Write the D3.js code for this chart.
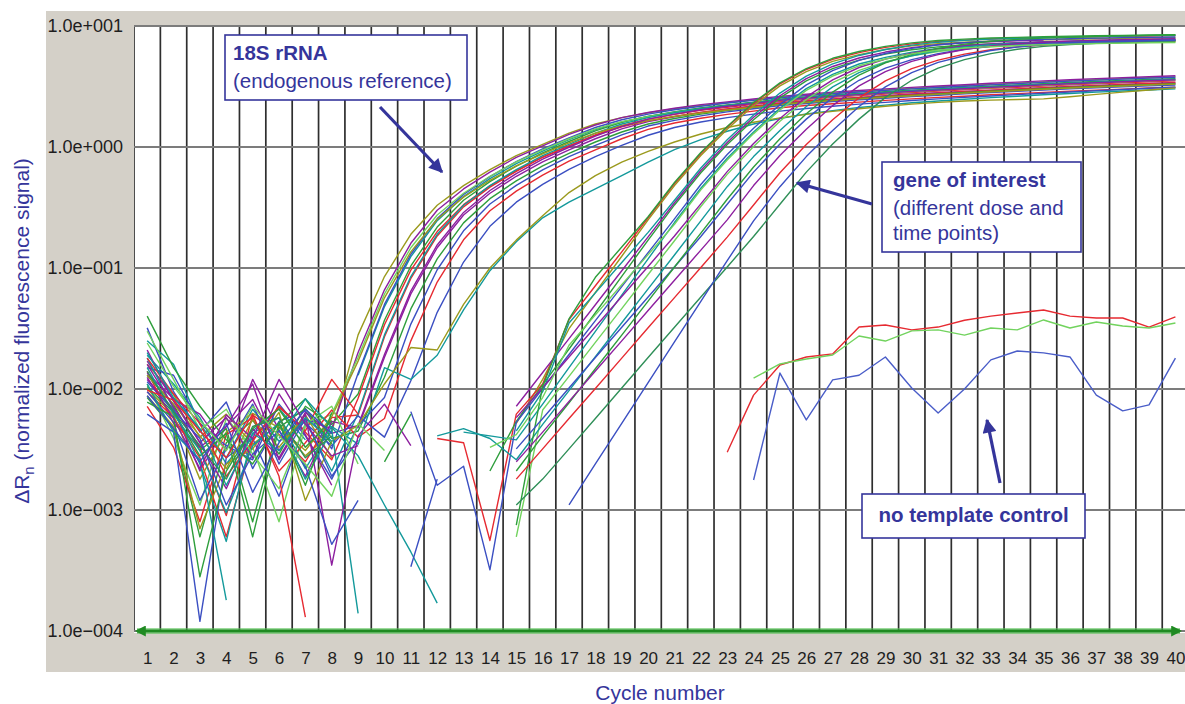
<!DOCTYPE html>
<html>
<head>
<meta charset="utf-8">
<title>Amplification plot</title>
<script src="https://cdn.jsdelivr.net/npm/d3@7"></script>
<style>
  body { margin: 0; background: #fff; }
  svg text { font-family: Arial, "Liberation Sans", Helvetica, sans-serif; }
</style>
</head>
<body>
<svg id="mainsvg" width="1185" height="704"></svg>
<script>
const _ = null; // negative / no signal, not drawn on a log axis

const cycles = [1,2,3,4,5,6,7,8,9,10,11,12,13,14,15,16,17,18,19,20,21,22,23,24,25,26,27,28,29,30,31,32,33,34,35,36,37,38,39,40];
const yTicks = [10, 1, 0.1, 0.01, 0.001, 0.0001];
const yTickLabels = ['1.0e+001', '1.0e+000', '1.0e\u2212001', '1.0e\u2212002', '1.0e\u2212003', '1.0e\u2212004'];
const threshold = 0.0001;

// 18S rRNA (endogenous reference) runs, delta Rn per cycle 1..40
const rRNA18S = [
  [.016,.009,.004,.0062,.0035,.0051,.0028,.0044, .028,.085,.19,.33,.48,.65,.85,1.05,1.3,1.55,1.75,1.92,2.07,2.2,2.32,2.45, 2.57,2.68,2.78,2.87,2.96,3.05,3.13,3.21,3.29,3.37,3.45,3.53,3.6,3.67,3.74,3.8],
  [.012,.0068,.0021,.0049,.0082,.0031,.0056,.0047, .020,.066,.16,.30,.45,.62,.82,1.02,1.27,1.52,1.75,1.93,2.09,2.24,2.36,2.49, 2.62,2.73,2.84,2.93,3.02,3.11,3.19,3.27,3.36,3.44,3.52,3.6,3.67,3.74,3.81,3.88],
  [.019,.011,.0058,.0024,.0045,.0069,.0038,_, .013,.048,.124,.246,.39,.547,.728,.925,1.15,1.39,1.61,1.79,1.95,2.09,2.21,2.33, 2.46,2.57,2.66,2.75,2.84,2.92,3.0,3.08,3.15,3.23,3.31,_,_,_,_,_],
  [.0085,.0047,.0006,.0036,.0055,.0029,.0072,.0051, .0091,.037,.104,.218,.363,.518,.695,.895,1.11,1.36,1.6,1.79,1.95,2.1,2.23,2.35, 2.48,2.59,2.69,2.77,2.86,2.95,3.02,3.1,3.18,3.26,3.33,3.41,3.48,3.55,3.61,3.67],
  [.014,.0052,.0033,.0009,.0061,.0042,.0025,.0058, .0061,.027,.082,.184,.32,.466,.63,.825,1.02,1.26,1.5,1.7,1.86,2.01,2.13,2.25, 2.38,2.48,2.57,2.66,2.74,2.82,2.9,2.97,3.05,3.12,3.19,3.27,3.33,3.4,3.46,3.52],
  [.032,.0095,.0044,.0078,.0022,.0054,.0066,.0032, .0135,.05,.13,.256,.406,.569,.758,.963,1.19,1.45,1.68,1.87,2.03,2.17,2.31,2.43, 2.55,2.66,2.76,2.85,2.94,3.02,3.1,3.18,3.26,3.34,3.42,3.5,3.57,3.64,3.71,3.77],
  [.011,.0039,.0011,.0057,.0033,.0008,.0049,.0062, .0183,.061,.147,.274,.415,.573,.754,.945,1.17,1.41,1.62,1.78,1.93,2.06,2.18,2.3, 2.42,2.52,2.61,2.7,2.78,2.87,2.94,3.02,3.09,3.17,3.24,3.32,3.38,3.45,3.52,3.57],
  [.017,.0082,.0062,.0031,.012,.0046,.0019,.0054, .0048,.0183,.061,.147,.274,.415,.573,.754,.945,1.17,1.41,1.62,1.78,1.93,2.06,2.18, 2.31,2.4,2.49,2.57,2.66,2.74,2.81,2.88,2.95,3.02,3.09,3.17,3.23,3.29,3.35,3.41],
  [.0095,.0058,.0027,.0006,.0038,.0071,.0044,.0026, .0084,.034,.096,.2,.334,.477,.639,.823,1.02,1.25,1.47,1.65,1.79,1.93,2.05,2.16, 2.29,2.39,2.47,2.55,2.63,2.71,2.79,2.86,2.93,3.0,3.07,3.14,3.2,3.27,3.33,3.38],
  [.013,.0074,.0031,.0047,.0008,.0052,.0083,.0039, .0045,.0125,.0459,.119,.236,.374,.525,.698,.887,1.1,1.33,1.55,1.72,1.87,2.0,2.12, 2.25,2.35,2.44,2.52,2.6,2.67,2.75,2.82,2.89,2.96,3.03,3.1,3.16,3.22,3.28,3.33],
  [.025,.016,.0051,.0027,.0068,.0037,.0054,.0021, .0063,.028,.085,.19,.33,.48,.65,.85,1.05,1.3,1.55,1.75,1.92,2.07,2.2,2.32, 2.45,2.56,2.65,2.74,2.83,2.91,2.99,3.07,3.14,3.22,3.29,3.37,3.44,3.5,3.57,3.63],
  [.0072,.0033,.0008,.0042,.0058,.0021,.0036,.0067, .004,.0057,.025,.0765,.171,.297,.432,.585,.765,.945,1.17,1.4,1.58,1.73,1.86,1.98, 2.11,2.2,2.28,2.35,2.43,2.5,2.57,2.63,2.7,2.76,2.83,2.89,2.95,3.01,3.07,3.12],
  [.015,.013,.0052,.0034,.0026,.0075,.0041,.0018, .005,.0085,.0344,.0967,.203,.338,.482,.646,.832,1.03,1.26,1.49,1.66,1.81,1.95,2.07, 2.2,2.29,2.38,2.46,2.53,2.61,2.68,2.75,2.82,2.88,2.95,3.02,3.08,3.14,3.2,3.25],
  [.01,.0061,.0018,.0044,.0063,.0048,.0031,.0059, .017,.0567,.136,.253,.385,.531,.699,.876,1.08,1.3,1.5,1.65,1.79,1.91,2.02,2.13, 2.24,2.33,2.42,2.5,2.58,2.65,2.72,2.79,2.86,2.93,3.0,3.07,3.13,3.19,3.25,3.31],
  [.021,.0079,.0036,.0015,.0047,.0027,.0064,.0043, .005,.0193,.0644,.155,.288,.437,.603,.794,.995,1.23,1.48,1.7,1.87,2.03,2.17,2.29, 2.43,2.53,2.62,2.71,2.79,2.88,2.95,3.03,3.11,3.18,3.26,3.33,3.4,3.46,3.53,3.59],
  [.0062,.0044,.00012,.0027,.0039,.0013,.0052,.0034, .006,.004,.0117,.043,.112,.221,.35,.491,.654,.831,1.03,1.25,1.45,1.61,1.75,1.87, 1.98,2.08,2.17,2.26,2.34,2.42,2.5,2.57,2.64,2.71,2.78,2.85,2.92,2.99,3.06,3.12],
  [.018,.0069,.0024,.00055,.0043,.0058,.0022,.0049, .0035,.015,.012,.019,.045,.095,.165,.26,.35,.45,.58,.75,.95,1.15,1.35,1.55, 1.72,1.88,2.0,2.12,2.22,2.32,2.4,2.48,2.56,2.63,2.7,2.77,2.84,2.9,2.96,3.02],
  [.0088,.0049,.0007,.0024,.0032,.0064,.0012,.0037, .005,.011,.022,.021,.05,.1,.17,.27,.42,.58,.75,.92,1.1,1.28,1.45,1.6, 1.74,1.86,1.97,2.07,2.17,2.26,2.34,2.4,2.44,2.47,2.5,2.6,2.72,2.84,2.96,3.08]
];

// gene of interest runs (different dose and time points)
const geneOfInterest = [
  [.013,.0075,.0041,.0022,.0056,.0033,.0061,.0027, _,_,_,_,_,_, .0052,.012,.0315,.0628,.125,.25,.48,.85,1.4,2.2,3.2,4.2,5.1,5.8,6.4,6.85,7.15,7.35,7.5,7.6,7.7,7.78,7.85,7.9,7.95,8.0],
  [.018,.0091,.0052,.0019,.0037,.0072,.0045,.012, .0062,_,_,.0039,.0036,.00056, .0062,.011,.0374,.0714,.136,.26,.499,.884,1.46,2.29,3.33,4.37,5.3,6.03,6.66,7.12,7.44,7.64,7.8,7.9,8.01,8.09,8.16,8.22,8.27,8.32],
  [.0105,.0064,.0028,.0043,.0006,.0048,.0069,.0035, _,_,_,_,_,.0021, .0054,.0108,.0214,.0427,.0852,.17,.332,.613,1.05,1.68,2.55,3.52,4.44,5.22,5.85,6.36,6.72,6.96,7.12,7.25,7.34,7.43,7.5,7.56,7.6,7.65],
  [.0135,.0083,.0036,.0058,.0027,.0091,.0042,.0016, _,_,_,_,_,_, .0072,.0137,.0261,.0497,.0949,.181,.346,.639,1.09,1.76,2.65,3.67,4.63,5.44,6.09,6.62,7.0,7.25,7.42,7.55,7.65,_,_,_,_,_],
  [.015,.0062,.0031,.00095,.0034,.0052,.0018,.0046, .00014,_,_,_,.0044,.0041, .0038,.0075,.015,.0299,.0597,.119,.2375,.456,.808,1.33,2.09,3.04,3.99,4.85,5.51,6.08,6.51,6.79,6.98,7.13,7.22,7.32,7.39,7.46,7.51,7.55],
  [.0095,.0053,.0012,.0032,.0075,.0024,.0057,.0019, .0038,_,.0065,.0016,.0023,.00032, .0053,.0101,.0193,.0367,.0701,.134,.255,.49,.867,1.43,2.24,3.26,4.28,5.2,5.92,6.53,6.99,7.29,7.5,7.65,7.75,7.85,7.94,8.01,8.06,8.11],
  [.03,.012,.0046,.0068,.0029,.0015,.0051,.0072, .0024,_,_,_,_,_, .0006,.0067,.0127,.0243,.0462,.0883,.168,.322,.594,1.01,1.63,2.47,3.41,4.3,5.06,5.67,6.16,6.51,6.74,6.9,7.02,7.11,7.2,7.26,7.32,7.37],
  [.011,.0044,.0026,.00018,_,.0039,.0083,.0048, .0028,.0011,.00045,.00017,_,_, .0045,.0095,.0351,.0623,.111,.197,.363,.671,1.15,1.84,2.79,3.85,4.86,5.71,6.4,6.95,7.35,7.61,7.79,7.93,8.03,8.13,8.2,8.26,8.32,8.37],
  [.016,.0071,.0033,.0049,.011,.0026,.0062,.00035, .0041,.0075,.0034,_,_,_, .0058,.0103,.0184,.0327,.0581,.103,.184,.339,.626,1.07,1.72,2.6,3.59,4.54,5.33,5.97,6.49,6.86,7.11,7.27,7.4,7.5,7.59,7.65,7.71,7.76],
  [.02,.0085,.0047,.0016,.0043,.0031,.0058,.0037, _,_,_,.0041,.0047,.0039, .0026,.0051,.0097,.0185,.0353,.0673,.128,.245,.47,.833,1.37,2.16,3.14,4.12,5.0,5.68,6.27,6.71,7.01,7.2,7.35,7.45,7.55,7.62,7.69,7.74],
  [.0078,.0059,.00028,.0021,.0047,.0068,.0033,.0055, _,.0048,_,_,_,_, .00075,.0105,.038,.0838,.149,.265,.509,.901,1.48,2.33,3.39,4.45,5.41,6.15,6.78,7.26,7.58,7.79,7.95,8.06,8.16,8.25,8.32,8.37,8.43,8.48],
  [.0115,.0066,.0039,.0011,.0029,.0045,.0023,.00052, .0012,_,.00034,.0018,_,_, .0032,.0057,.0102,.0182,.0324,.0575,.102,.182,.336,.62,1.06,1.7,2.57,3.56,4.49,5.28,5.91,6.42,6.79,7.03,7.2,7.32,7.42,7.51,7.58,7.63],
  [.04,.015,.0072,.0038,.0024,.0053,.0016,.0064, _,.0025,.0062,_,_,_, .0021,.0041,.0077,.0147,.0279,.0532,.102,.194,.37,.684,1.17,1.88,2.84,3.92,4.95,5.82,6.52,7.08,7.49,7.76,7.94,8.08,8.19,8.28,8.36,8.42],
  [.0125,.0057,.0022,.0061,.0039,.012,.0051,.0028, .0034,_,_,_,_,_, .0025,.0044,.0079,.0141,.025,.0445,.0791,.1406,.25,.48,.85,1.4,2.2,3.2,4.2,5.1,5.8,6.4,6.85,7.15,7.35,7.5,7.6,7.7,7.78,7.85],
  [.0098,.0081,.0045,.0027,.0062,.0019,.00013,_, _,_,_,_,_,_, .0018,.0032,.0057,.0101,.018,.0321,.0569,.101,.18,.332,.613,1.05,1.68,2.55,3.52,4.44,5.22,5.85,6.36,6.72,6.96,7.12,7.25,7.34,7.43,7.5],
  [.014,.0065,.0034,.0018,.0049,.0058,.0027,.0041, _,_,_,_,_,_, .0011,.0018,.0032,.0057,.0102,.0182,.0324,.0575,.102,.182,.336,.62,1.06,1.7,2.57,3.56,4.49,5.28,5.91,6.42,6.79,7.03,7.2,7.32,7.42,7.51],
  [.0088,.0047,.0025,.0052,.0014,.0036,.0068,.0043, _,_,_,.0039,_,_, _,_,.0011,.0024,.0052,.0113,.0245,.0531,.115,.245,.47,.833,1.37,2.16,3.14,4.12,5.0,5.68,6.27,6.71,7.01,7.2,7.35,7.45,7.55,7.62],
  [.024,.0105,.0055,.0031,.0072,.0041,.0024,.0013, .0052,.0031,_,_,_,.0033, .0042,.0085,.023,.041,.0728,.129,.23,.442,.782,1.29,2.02,2.94,3.86,4.69,5.34,5.89,6.3,6.58,6.76,6.9,6.99,7.08,7.16,7.22,7.27,7.31]
];

// no template control wells
const ntcRed   = [_,_,_,_,_,_,_,_,_,_,_,_,_,_,_,_,_,_,_,_,_,_, .003,.0089,.0158,.0184,.0195,.0325,.0338,.0308,.0325,.037,.040,.0425,.045,.040,.0386,.0386,.0325,.0394];
const ntcGreen = [_,_,_,_,_,_,_,_,_,_,_,_,_,_,_,_,_,_,_,_,_,_,_, .0123,.0161,.0177,.0191,.0274,.0249,.0302,.0308,.0279,.0319,.0308,.0372,.0319,.0358,.0332,.0319,.0351];
const ntcBlue  = [_,_,_,_,_,_,_,_,_,_,_,_,_,_,_,_,_,_,_,_,_,_,_, .00177,.01355,.00555,.0119,.013,.0184,.0102,.00634,.01,.0174,.0206,.0199,.0184,.0089,.0066,.0074,.018];

// well colours (instrument palette)
const pal = {
  red: '#e62a31', green: '#2e9e3c', lime: '#72d35e', blue: '#3b4fc2',
  purple: '#8d1f9f', teal: '#13999b', olive: '#9b9a1d', dkgreen: '#2f8f58'
};
const colors18S = ['olive','purple','teal','green','red','blue','lime','purple','red','green','teal','red','blue','olive','purple','blue','teal','olive'];
const colorsGene = ['olive','red','green','purple','teal','blue','lime','teal','purple','teal','green','blue','green','purple','red','dkgreen','blue','lime'];

const svg = d3.select('#mainsvg');
const ink = '#35359b';

const x = d3.scaleLinear().domain([0.5, 40.5]).range([134, 1188.6]);
const y = d3.scaleLog().domain([1e-4, 10]).range([631, 26]);

// frame
svg.append('rect').attr('x', 46).attr('y', 11).attr('width', 1139).attr('height', 661).attr('fill', '#d4d0c8');
svg.append('rect').attr('x', 134).attr('y', 26).attr('width', 1051).attr('height', 607).attr('fill', '#fff');

svg.append('clipPath').attr('id', 'plotclip')
  .append('rect').attr('x', 134).attr('y', 24).attr('width', 1051).attr('height', 611);

const defs = svg.append('defs');
defs.append('marker').attr('id', 'head').attr('viewBox', '0 0 10 10')
  .attr('refX', 9).attr('refY', 5).attr('markerUnits', 'userSpaceOnUse')
  .attr('markerWidth', 15).attr('markerHeight', 14).attr('orient', 'auto')
  .append('path').attr('d', 'M0,0 L10,5 L0,10 z').attr('fill', ink);
defs.append('marker').attr('id', 'ghead').attr('viewBox', '0 0 10 10')
  .attr('refX', 8).attr('refY', 5).attr('markerUnits', 'userSpaceOnUse')
  .attr('markerWidth', 11).attr('markerHeight', 11).attr('orient', 'auto-start-reverse')
  .append('path').attr('d', 'M0,0 L10,5 L0,10 z').attr('fill', '#1f8a22');

const plot = svg.append('g').attr('clip-path', 'url(#plotclip)');

// grid: verticals between cycles, horizontals at decades
plot.selectAll('.vgrid').data(cycles.map(c => c - 0.5))
  .join('line').attr('class', 'vgrid')
  .attr('x1', d => x(d)).attr('x2', d => x(d))
  .attr('y1', y(10)).attr('y2', y(1e-4))
  .attr('stroke', '#2e2e2e').attr('stroke-width', 1.7);

plot.selectAll('.hgrid').data(yTicks)
  .join('line').attr('class', 'hgrid')
  .attr('x1', x(0.5)).attr('x2', 1185)
  .attr('y1', d => y(d)).attr('y2', d => y(d))
  .attr('stroke', '#7c7c7c').attr('stroke-width', 2);

// axes
const yAxis = svg.append('g').attr('transform', `translate(${x(0.5)},0)`)
  .call(d3.axisLeft(y).tickValues(yTicks).tickFormat((d, i) => yTickLabels[i]).tickSize(0).tickPadding(11));
yAxis.select('.domain').remove();
yAxis.selectAll('text').attr('font-size', 18).attr('fill', '#1e1e1e')
  .attr('font-family', 'Arial, "Liberation Sans", sans-serif');

const xAxis = svg.append('g').attr('transform', `translate(0,${y(1e-4)})`)
  .call(d3.axisBottom(x).tickValues(cycles).tickSize(0).tickPadding(21));
xAxis.select('.domain').remove();
xAxis.selectAll('text').attr('font-size', 17).attr('fill', '#1e1e1e')
  .attr('font-family', 'Arial, "Liberation Sans", sans-serif');

// amplification curves
const line = d3.line()
  .defined(d => d.v != null && d.v > 0)
  .x(d => x(d.c))
  .y(d => y(d.v));
const toPts = arr => arr.map((v, i) => ({ c: cycles[i], v: v }));

const runs = [];
rRNA18S.forEach((r, i) => runs.push({ pts: toPts(r), color: pal[colors18S[i]] }));
geneOfInterest.forEach((r, i) => runs.push({ pts: toPts(r), color: pal[colorsGene[i]] }));
runs.push({ pts: toPts(ntcRed), color: pal.red });
runs.push({ pts: toPts(ntcGreen), color: pal.lime });
runs.push({ pts: toPts(ntcBlue), color: '#4a5dc8' });

plot.selectAll('.run').data(runs)
  .join('path').attr('class', 'run')
  .attr('fill', 'none')
  .attr('stroke', d => d.color)
  .attr('stroke-width', 1.4)
  .attr('stroke-linejoin', 'round')
  .attr('d', d => line(d.pts));

// threshold line with end arrows
svg.append('line')
  .attr('x1', x(0.5) + 3).attr('x2', 1180)
  .attr('y1', y(threshold)).attr('y2', y(threshold))
  .attr('stroke', '#5cc25a').attr('stroke-width', 6).attr('opacity', 0.6);
svg.append('line')
  .attr('x1', x(0.5) + 3).attr('x2', 1180)
  .attr('y1', y(threshold)).attr('y2', y(threshold))
  .attr('stroke', '#1f8a22').attr('stroke-width', 3.2)
  .attr('marker-start', 'url(#ghead)').attr('marker-end', 'url(#ghead)');

// axis titles
svg.append('text').attr('x', 660).attr('y', 700).attr('text-anchor', 'middle')
  .attr('font-size', 21).attr('fill', ink).text('Cycle number');

const yTitle = svg.append('text')
  .attr('transform', 'translate(29,331) rotate(-90)')
  .attr('text-anchor', 'middle').attr('font-size', 21).attr('fill', ink);
yTitle.append('tspan').text('\u0394R');
yTitle.append('tspan').attr('font-size', 15).attr('dy', 5).text('n');
yTitle.append('tspan').attr('dy', -5).text(' (normalized fluorescence signal)');

// annotations
function box(x0, y0, x1, y1) {
  svg.append('rect').attr('x', x0).attr('y', y0).attr('width', x1 - x0).attr('height', y1 - y0)
    .attr('fill', '#fff').attr('stroke', ink).attr('stroke-width', 1.6);
}
function arrow(xa, ya, xb, yb) {
  svg.append('line').attr('x1', xa).attr('y1', ya).attr('x2', xb).attr('y2', yb)
    .attr('stroke', ink).attr('stroke-width', 3.2).attr('marker-end', 'url(#head)');
}
function label(tx, ty, str, bold, anchor) {
  svg.append('text').attr('x', tx).attr('y', ty).attr('font-size', 20.5)
    .attr('font-weight', bold ? 'bold' : 'normal').attr('text-anchor', anchor || 'start')
    .attr('fill', ink).text(str);
}

box(225, 35, 467, 100);
label(233, 60, '18S rRNA', true);
label(233, 88, '(endogenous reference)', false);
arrow(380, 107, 442, 172);

box(882, 162, 1081, 252);
label(893, 187, 'gene of interest', true);
label(893, 215, '(different dose and', false);
label(893, 240, 'time points)', false);
arrow(872, 204, 797, 183);

box(862, 494, 1085, 538);
label(973.5, 522, 'no template control', true, 'middle');
arrow(1000, 483, 987, 420);
</script>
</body>
</html>
